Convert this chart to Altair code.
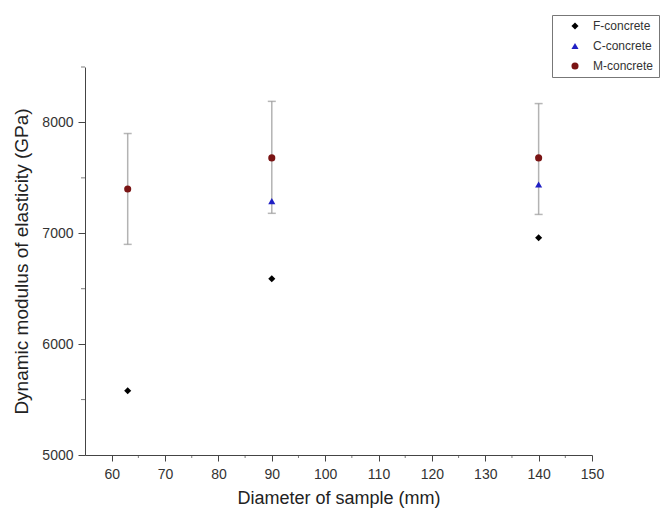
import altair as alt
import pandas as pd

series = ["F-concrete", "C-concrete", "M-concrete"]
colors = ["#000000", "#1f1fc4", "#7a1414"]
shapes = ["diamond", "triangle-up", "circle"]

f_x = [63, 90, 140]
f_y = [5580, 6590, 6960]
c_x = [90, 140]
c_y = [7290, 7440]
m_x = [63, 90, 140]
m_y = [7400, 7680, 7680]
m_lo = [6900, 7180, 7170]
m_hi = [7900, 8190, 8170]

x_major = [60, 70, 80, 90, 100, 110, 120, 130, 140, 150]
x_minor = [65, 75, 85, 95, 105, 115, 125, 135, 145]
y_major = [5000, 6000, 7000, 8000]
y_minor = [5500, 6500, 7500, 8500]

rows = []
for s, xs, ys in [("F-concrete", f_x, f_y), ("C-concrete", c_x, c_y), ("M-concrete", m_x, m_y)]:
    for x, y in zip(xs, ys):
        rows.append({"d": x, "v": y, "s": s})
pts = pd.DataFrame(rows)
err = pd.DataFrame({"d": m_x, "lo": m_lo, "hi": m_hi})
xmin_df = pd.DataFrame({"d": x_minor, "v": [5000] * len(x_minor)})
ymin_df = pd.DataFrame({"d": [55] * len(y_minor), "v": y_minor})

FONT = "Liberation Sans"
xscale = alt.Scale(domain=[55, 150], nice=False, zero=False)
yscale = alt.Scale(domain=[5000, 8500], nice=False, zero=False)

ax_common = dict(domainColor="#444", tickColor="#444", grid=False,
                 labelFont=FONT, titleFont=FONT, labelColor="#333", titleColor="#222",
                 labelFontSize=14, titleFontWeight="normal", labelFlush=False,
                 labelOverlap=False)

x_axis = alt.Axis(values=x_major, title="Diameter of sample (mm)", tickSize=6,
                  orient="bottom", labelPadding=6, titlePadding=8, titleFontSize=18, **ax_common)
y_axis = alt.Axis(values=y_major, title="Dynamic modulus of elasticity (GPa)", format="d",
                  tickSize=7, orient="left", labelPadding=5, titlePadding=10,
                  titleFontSize=19, **ax_common)

# minor ticks drawn through the same scales (this first layer also carries the axes)
minor_x = alt.Chart(xmin_df).mark_tick(color="#444", orient="vertical", size=3, thickness=1,
                                       yOffset=1.5).encode(
    x=alt.X("d:Q", scale=xscale, axis=x_axis), y=alt.Y("v:Q", scale=yscale, axis=y_axis))
minor_y = alt.Chart(ymin_df).mark_tick(color="#444", orient="horizontal", size=4, thickness=1,
                                       xOffset=-2).encode(
    x=alt.X("d:Q", scale=xscale), y=alt.Y("v:Q", scale=yscale))

rules = alt.Chart(err).mark_rule(color="#b3b3b3", strokeWidth=1.5).encode(
    x=alt.X("d:Q", scale=xscale),
    y=alt.Y("lo:Q", scale=yscale),
    y2="hi:Q",
)
cap_lo = alt.Chart(err).mark_tick(color="#999", orient="horizontal", size=8, thickness=1.5).encode(
    x=alt.X("d:Q", scale=xscale), y=alt.Y("lo:Q", scale=yscale))
cap_hi = alt.Chart(err).mark_tick(color="#999", orient="horizontal", size=8, thickness=1.5).encode(
    x=alt.X("d:Q", scale=xscale), y=alt.Y("hi:Q", scale=yscale))

points = alt.Chart(pts).mark_point(filled=True, size=50, opacity=1).encode(
    x=alt.X("d:Q", scale=xscale),
    y=alt.Y("v:Q", scale=yscale),
    color=alt.Color("s:N", scale=alt.Scale(domain=series, range=colors),
                    legend=alt.Legend(title=None, orient="none", legendX=467, legendY=-52,
                                      strokeColor="#777", padding=5, symbolOffset=12,
                                      labelOffset=12, labelFont=FONT,
                                      labelFontSize=12, labelColor="#333", symbolSize=50,
                                      rowPadding=8, fillColor="white")),
    shape=alt.Shape("s:N", scale=alt.Scale(domain=series, range=shapes), legend=None),
)

chart = alt.layer(minor_x, minor_y, rules, cap_lo, cap_hi, points).properties(
    width=507, height=388,
    autosize=alt.AutoSizeParams(type="none"),
    padding={"left": 77, "top": 59, "right": 69, "bottom": 54},
    background="white",
).configure_view(stroke=None)

chart.save("out.html", embed_options={"renderer": "svg", "actions": False})
